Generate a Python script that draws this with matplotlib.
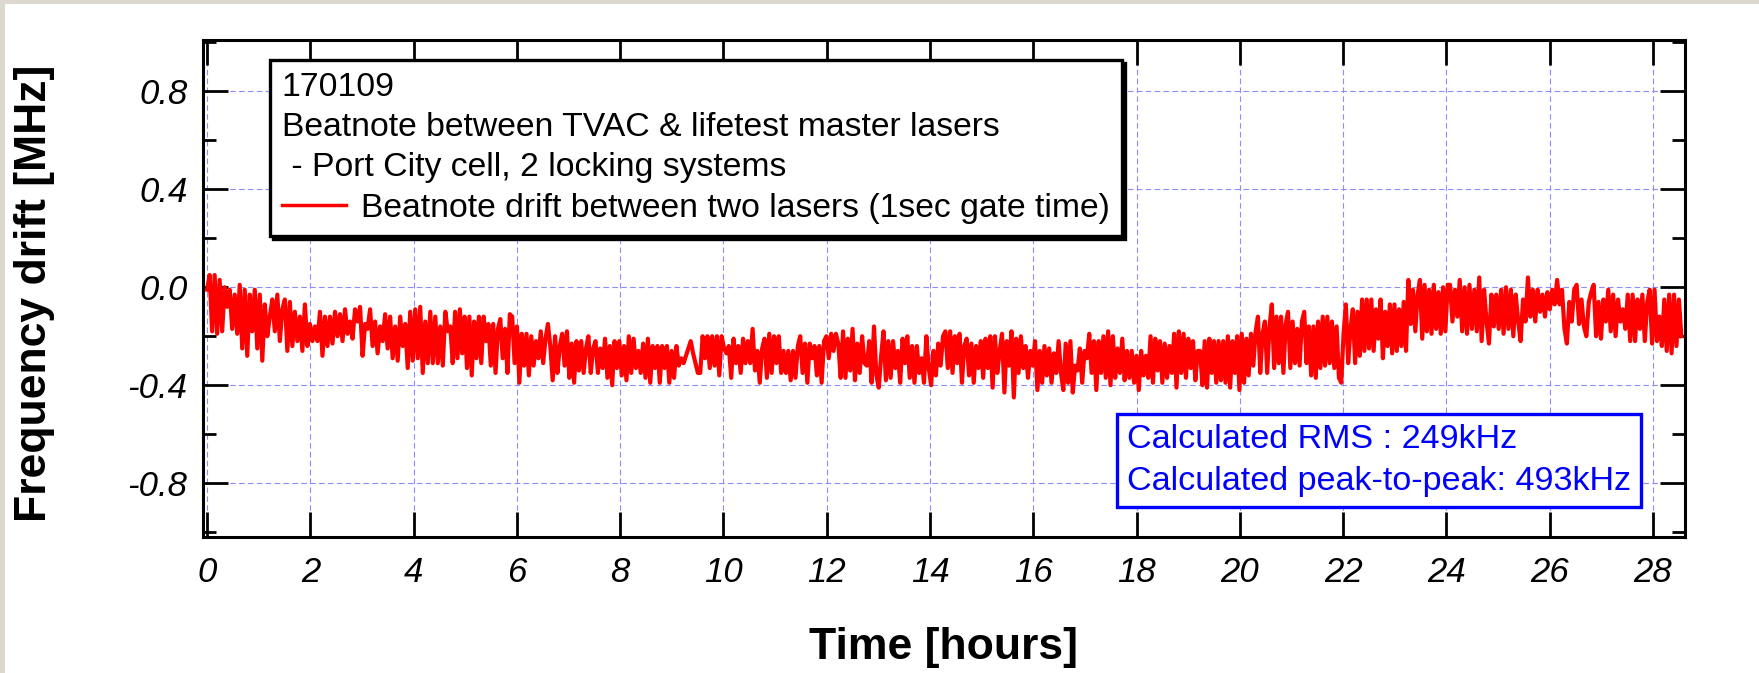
import numpy as np
import matplotlib
matplotlib.use('Agg')
import matplotlib.pyplot as plt
from matplotlib.lines import Line2D
from matplotlib.patches import Rectangle
from matplotlib.ticker import MultipleLocator

plt.rcParams['font.family'] = ['Liberation Sans', 'DejaVu Sans']
plt.rcParams['axes.unicode_minus'] = False

# time span [hours] covered by each block of readings
seg_edges = [0.0, 4.71, 9.55, 14.39, 19.23, 24.07, 28.55]

# beatnote drift [MHz], peaks and troughs read left to right
drift_a = [-0.01, 0.05, -0.18, 0.05, -0.19, 0.03, -0.18, 0.00, -0.08, -0.01,
           -0.17, -0.03, -0.19, 0.01, -0.25, -0.01, -0.28, -0.03, -0.18, -0.01,
           -0.25, -0.03, -0.30, -0.07, -0.20, -0.12, -0.05, -0.18, -0.03, -0.22,
           -0.09, -0.05, -0.26, -0.06, -0.24, -0.10, -0.22, -0.12, -0.26, -0.07,
           -0.24, -0.15, -0.22, -0.16, -0.22, -0.10, -0.28, -0.12, -0.24, -0.12,
           -0.23, -0.10, -0.20, -0.11, -0.22, -0.09, -0.19, -0.14, -0.21, -0.09,
           -0.14, -0.08, -0.28, -0.15, -0.17, -0.09, -0.24, -0.14, -0.27, -0.16,
           -0.22, -0.11, -0.25, -0.12, -0.29, -0.16, -0.30, -0.12, -0.24, -0.15,
           -0.33, -0.10, -0.30, -0.09, -0.29, -0.08, -0.35, -0.14, -0.31, -0.10,
           -0.31, -0.12, -0.31, -0.16, -0.32, -0.10, -0.18]
drift_b = [-0.16, -0.31, -0.10, -0.29, -0.09, -0.27, -0.12, -0.33, -0.12, -0.36,
           -0.14, -0.29, -0.12, -0.31, -0.12, -0.22, -0.15, -0.32, -0.15, -0.35,
           -0.17, -0.13, -0.29, -0.17, -0.35, -0.11, -0.12, -0.31, -0.16, -0.39,
           -0.19, -0.32, -0.19, -0.36, -0.20, -0.32, -0.22, -0.29, -0.18, -0.31,
           -0.21, -0.15, -0.24, -0.38, -0.20, -0.35, -0.24, -0.19, -0.32, -0.18,
           -0.37, -0.23, -0.39, -0.22, -0.34, -0.22, -0.35, -0.25, -0.20, -0.35,
           -0.25, -0.22, -0.35, -0.25, -0.33, -0.21, -0.37, -0.24, -0.40, -0.22,
           -0.33, -0.22, -0.36, -0.24, -0.38, -0.20, -0.35, -0.21, -0.33, -0.26,
           -0.35, -0.23, -0.37, -0.21, -0.39, -0.24, -0.33, -0.24, -0.39, -0.24,
           -0.33, -0.24, -0.39, -0.26, -0.37, -0.24, -0.32, -0.29, -0.31, -0.28,
           -0.25, -0.22, -0.27, -0.31, -0.35]
drift_c = [-0.35, -0.20, -0.29, -0.20, -0.33, -0.20, -0.32, -0.20, -0.36, -0.20,
           -0.25, -0.27, -0.24, -0.37, -0.21, -0.31, -0.24, -0.35, -0.21, -0.31,
           -0.22, -0.31, -0.17, -0.34, -0.26, -0.39, -0.25, -0.21, -0.37, -0.19,
           -0.35, -0.20, -0.31, -0.20, -0.35, -0.26, -0.35, -0.26, -0.38, -0.26,
           -0.37, -0.24, -0.20, -0.35, -0.23, -0.39, -0.23, -0.29, -0.24, -0.36,
           -0.24, -0.39, -0.22, -0.20, -0.29, -0.19, -0.26, -0.19, -0.23, -0.37,
           -0.18, -0.37, -0.21, -0.34, -0.17, -0.38, -0.23, -0.35, -0.20, -0.31,
           -0.32, -0.22, -0.39, -0.16, -0.36, -0.41, -0.28, -0.18, -0.38, -0.22,
           -0.37, -0.22, -0.33, -0.26, -0.39, -0.21, -0.31, -0.20, -0.37, -0.24,
           -0.39, -0.24, -0.35, -0.29, -0.39, -0.20, -0.33, -0.40, -0.26, -0.36,
           -0.23, -0.32, -0.20, -0.18, -0.33]
drift_d = [-0.18, -0.35, -0.20, -0.31, -0.19, -0.39, -0.24, -0.21, -0.36, -0.23,
           -0.39, -0.24, -0.33, -0.22, -0.37, -0.21, -0.33, -0.20, -0.41, -0.20,
           -0.35, -0.26, -0.19, -0.43, -0.22, -0.32, -0.18, -0.45, -0.21, -0.35,
           -0.20, -0.33, -0.24, -0.37, -0.26, -0.32, -0.22, -0.42, -0.26, -0.39,
           -0.24, -0.36, -0.25, -0.39, -0.27, -0.35, -0.22, -0.35, -0.42, -0.23,
           -0.39, -0.22, -0.43, -0.32, -0.34, -0.25, -0.39, -0.26, -0.29, -0.19,
           -0.35, -0.22, -0.42, -0.22, -0.35, -0.20, -0.37, -0.18, -0.40, -0.20,
           -0.37, -0.25, -0.35, -0.21, -0.38, -0.26, -0.37, -0.26, -0.39, -0.28,
           -0.42, -0.26, -0.36, -0.28, -0.37, -0.20, -0.39, -0.21, -0.34, -0.22,
           -0.39, -0.23, -0.37, -0.24, -0.35, -0.19, -0.41, -0.18, -0.35, -0.19,
           -0.37, -0.21, -0.33, -0.22, -0.38, -0.26]
drift_e = [-0.26, -0.40, -0.22, -0.41, -0.21, -0.35, -0.22, -0.39, -0.22, -0.38,
           -0.22, -0.39, -0.20, -0.41, -0.22, -0.35, -0.20, -0.42, -0.19, -0.39,
           -0.21, -0.36, -0.19, -0.32, -0.18, -0.12, -0.35, -0.19, -0.14, -0.35,
           -0.16, -0.07, -0.33, -0.12, -0.31, -0.12, -0.35, -0.15, -0.10, -0.33,
           -0.14, -0.31, -0.17, -0.32, -0.14, -0.10, -0.31, -0.16, -0.36, -0.16,
           -0.37, -0.14, -0.33, -0.12, -0.32, -0.12, -0.31, -0.14, -0.33, -0.16,
           -0.37, -0.39, -0.19, -0.07, -0.31, -0.17, -0.09, -0.31, -0.10, -0.28,
           -0.05, -0.26, -0.05, -0.25, -0.05, -0.26, -0.09, -0.21, -0.05, -0.29,
           -0.10, -0.24, -0.07, -0.27, -0.07, -0.26, -0.09, -0.24, -0.06, -0.26,
           0.03, -0.15, -0.01, -0.18, -0.03, 0.03, -0.21, 0.01, -0.18, -0.01,
           -0.19, 0.01, -0.17, -0.02, -0.19, 0.00, -0.18, 0.01]
drift_f = [0.01, -0.14, -0.01, -0.12, 0.03, -0.18, 0.00, -0.19, 0.01, -0.17,
           -0.01, -0.18, 0.04, -0.22, -0.01, -0.14, -0.23, -0.03, -0.16, -0.03,
           -0.17, -0.01, -0.19, 0.00, -0.17, -0.01, -0.20, -0.03, -0.14, -0.22,
           -0.05, -0.14, 0.04, -0.12, -0.01, -0.14, -0.01, -0.10, -0.03, -0.12,
           -0.02, -0.09, -0.01, -0.07, 0.03, -0.07, -0.01, -0.17, -0.23, -0.06,
           -0.14, -0.01, 0.01, -0.15, -0.05, -0.16, -0.20, -0.06, -0.02, 0.01,
           -0.20, -0.06, -0.21, -0.05, -0.14, -0.01, -0.18, -0.03, -0.20, -0.05,
           -0.14, -0.09, -0.17, -0.03, -0.22, -0.03, -0.22, -0.05, -0.17, -0.03,
           -0.22, -0.06, -0.01, -0.23, -0.01, -0.22, -0.12, -0.24, -0.05, -0.26,
           -0.03, -0.27, -0.03, -0.24, -0.05, -0.20]
drift_blocks = [drift_a, drift_b, drift_c, drift_d, drift_e, drift_f]

x_ticks = list(range(0, 29, 2))
y_ticks = [-0.8, -0.4, 0.0, 0.4, 0.8]
y_tick_labels = ['-0.8', '-0.4', '0.0', '0.4', '0.8']

legend_title = ('170109\nBeatnote between TVAC & lifetest master lasers\n'
                ' - Port City cell, 2 locking systems')
trace_label = 'Beatnote drift between two lasers (1sec gate time)'
stats_text = 'Calculated RMS : 249kHz\nCalculated peak-to-peak: 493kHz'

# sample times: each block of readings spread over its own span
hours = np.concatenate([np.linspace(seg_edges[i], seg_edges[i + 1], len(b), endpoint=(i == len(drift_blocks) - 1))
                        for i, b in enumerate(drift_blocks)])
drift = np.concatenate(drift_blocks)

fig = plt.figure(figsize=(17.59, 6.73), dpi=100)
fig.patch.set_facecolor('#dcd8d0')
fig.add_artist(Rectangle((5 / 1759, 0), 1, 1 - 4 / 673, transform=fig.transFigure,
                         facecolor='white', edgecolor='none', zorder=-1))

ax = fig.add_axes([0.1154, 0.2021, 0.8425, 0.7385])
ax.plot(hours, drift, color='#ff0000', lw=3.0, solid_joinstyle='round')

ax.set_xlim(-0.08, 28.62)
ax.set_ylim(-1.02, 1.01)
ax.set_xticks(x_ticks, [str(v) for v in x_ticks])
ax.set_yticks(y_ticks, y_tick_labels)
ax.yaxis.set_minor_locator(MultipleLocator(0.2))

ax.tick_params(which='both', direction='in', top=True, right=True, width=2.0, labelsize=25)
ax.tick_params(which='major', length=18, pad=11)
ax.tick_params(axis='x', which='major', pad=14)
ax.tick_params(which='minor', length=9.5)
for lab in ax.get_xticklabels() + ax.get_yticklabels():
    lab.set_fontstyle('italic')
for sp in ax.spines.values():
    sp.set_linewidth(2.2)

ax.grid(True, which='major', color='#8c8cff', ls=(0, (5, 3)), lw=0.8)

ax.set_xlabel('Time [hours]', fontsize=32, fontweight='bold')
ax.xaxis.label.set_va('center')
ax.xaxis.set_label_coords(0.5, -0.2233)
ax.set_ylabel('Frequency drift [MHz]', fontsize=32, fontweight='bold')
ax.yaxis.label.set_va('center')
ax.yaxis.set_label_coords(-0.1134, 0.49)

handle = Line2D([], [], color='#ff0000', lw=2.5)
leg = ax.legend([handle], [trace_label], title=legend_title, loc='upper left',
                bbox_to_anchor=(0.0452, 0.9598), borderaxespad=0, fontsize=24.3,
                title_fontsize=24.3, alignment='left', fancybox=False, framealpha=1,
                edgecolor='black', shadow={'color': 'black', 'alpha': 1},
                handlelength=1.9, handletextpad=0.45, borderpad=0.35, labelspacing=0.3)
leg.get_frame().set_linewidth(2.4)
leg.get_title().set_linespacing(1.38)

ax.text(0.6235, 0.2274, stats_text, transform=ax.transAxes, color='#0000ff', fontsize=24.6,
        va='top', ha='left', linespacing=1.45,
        bbox=dict(boxstyle='square,pad=0.3', fc='white', ec='#0000ff', lw=2.4))

fig.savefig('out.png', dpi=100, facecolor=fig.get_facecolor())
